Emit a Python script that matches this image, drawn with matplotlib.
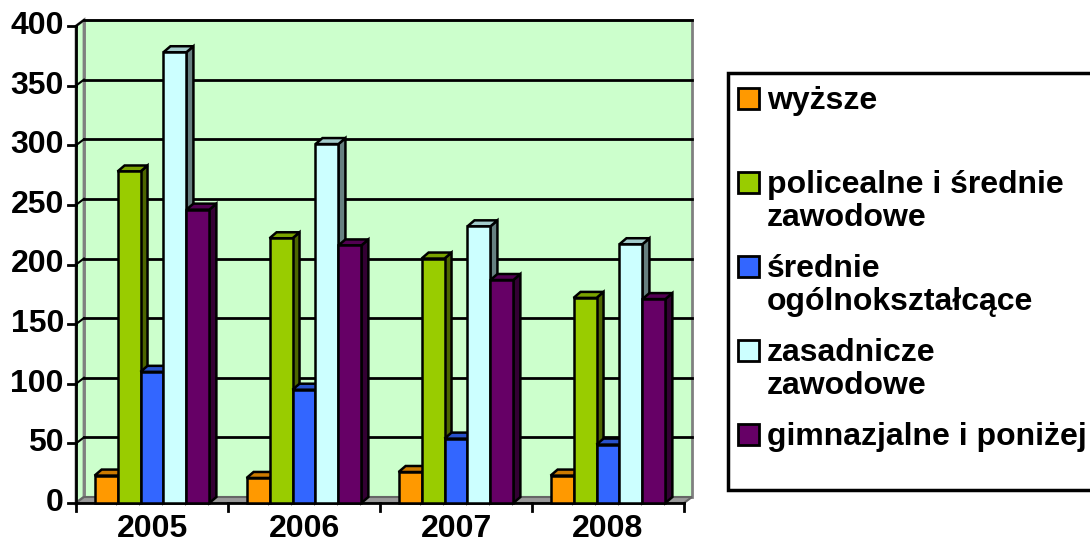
import matplotlib
matplotlib.use("Agg")
import matplotlib.pyplot as plt
from matplotlib.patches import Polygon, Rectangle
import numpy as np

plt.rcParams['font.family'] = ['Liberation Sans', 'DejaVu Sans']
plt.rcParams['font.weight'] = 'bold'

years = ['2005', '2006', '2007', '2008']
series_names = ['wyższe', 'policealne i średnie\nzawodowe', 'średnie\nogólnokształcące',
                'zasadnicze\nzawodowe', 'gimnazjalne i poniżej']
wyzsze = [23, 21, 26, 23]
policealne = [278, 222, 205, 172]
srednie = [110, 95, 54, 49]
zasadnicze = [378, 301, 232, 217]
gimnazjalne = [246, 216, 187, 171]
series = [wyzsze, policealne, srednie, zasadnicze, gimnazjalne]
yticks = [0, 50, 100, 150, 200, 250, 300, 350, 400]

front = ['#FF9900', '#99CC00', '#3366FF', '#CCFFFF', '#660066']
top = ['#CC7A00', '#7AA300', '#2952CC', '#A3CCCC', '#520052']
side = ['#996600', '#4D6600', '#1F3D99', '#668080', '#330033']

W, H = 1090, 551
FS = 23
fig = plt.figure(figsize=(W / 100, H / 100), dpi=100)
ax_l, ax_b, ax_w, ax_h = 76, 48, 608, 477
ax = fig.add_axes([ax_l / W, ax_b / H, ax_w / W, ax_h / H])
ax.set_xlim(0, 4)
ax.set_ylim(0, 400)
ax.axis('off')

ppx = ax_w / 4.0      # pixels per category
ppy = ax_h / 400.0    # pixels per value unit
wdx, wdy = 8 / ppx, 6 / ppy   # wall depth offset
bdx, bdy = 7 / ppx, 6 / ppy   # bar depth offset

wall = '#CCFFCC'
edge = '#808080'
# back wall
ax.add_patch(Rectangle((wdx, wdy), 4, 400, facecolor=wall, edgecolor=edge, lw=2, clip_on=False, zorder=0))
# left wall
ax.add_patch(Polygon([(0, 0), (0, 400), (wdx, 400 + wdy), (wdx, wdy)], closed=True,
                     facecolor=wall, edgecolor=edge, lw=2, clip_on=False, zorder=0.5))
# floor
ax.add_patch(Polygon([(0, 0), (4, 0), (4 + wdx, wdy), (wdx, wdy)], closed=True,
                     facecolor='#999999', edgecolor='#666666', lw=1.5, clip_on=False, zorder=0.5))
# gridlines
for v in yticks[1:]:
    ax.plot([wdx, 4 + wdx], [v + wdy, v + wdy], color='black', lw=2, clip_on=False, zorder=1)
    ax.plot([0, wdx], [v, v + wdy], color='black', lw=1.5, clip_on=False, zorder=1)

# axes lines
ax.plot([0, 0], [0, 400], color='black', lw=2, clip_on=False, zorder=2)
ax.plot([0, 4], [0, 0], color='black', lw=2, clip_on=False, zorder=2)
tkx = 8 / ppx
tky = 8 / ppy
for v in yticks:
    ax.plot([-tkx, 0], [v, v], color='black', lw=2, clip_on=False, zorder=2)
    ax.text(-12 / ppx, v, str(v), ha='right', va='center', fontsize=FS, fontweight='bold')
for i in range(5):
    ax.plot([i, i], [0, -tky], color='black', lw=2, clip_on=False, zorder=2)
for i, yr in enumerate(years):
    ax.text(i + 0.5, -26 / ppy, yr, ha='center', va='center', fontsize=FS, fontweight='bold')

# bars
bw = 0.151
n = len(series)
z = 3
for gi in range(len(years)):
    for si in range(n):
        v = series[si][gi]
        x0 = gi + 0.5 - n * bw / 2 + si * bw
        ax.bar(x0, v, width=bw, align='edge', color=front[si], edgecolor='black', lw=1.8,
               zorder=z + 0.2, clip_on=False)
        ax.add_patch(Polygon([(x0, v), (x0 + bw, v), (x0 + bw + bdx, v + bdy), (x0 + bdx, v + bdy)],
                             closed=True, facecolor=top[si], edgecolor='black', lw=1.8,
                             clip_on=False, zorder=z + 0.1))
        ax.add_patch(Polygon([(x0 + bw, 0), (x0 + bw, v), (x0 + bw + bdx, v + bdy), (x0 + bw + bdx, bdy)],
                             closed=True, facecolor=side[si], edgecolor='black', lw=1.8,
                             clip_on=False, zorder=z))
        z += 1

# legend (drawn manually in pixel space of the figure)
def fx(px):
    return px / W

def fy(py):
    return 1 - py / H

fig.patches.append(Rectangle((fx(728), fy(490)), (1100 - 728) / W, (490 - 73) / H,
                             transform=fig.transFigure, facecolor='white', edgecolor='black', lw=2.5,
                             zorder=1))
entry_base = 109
for si, name in enumerate(series_names):
    base = entry_base + si * 84
    fig.patches.append(Rectangle((fx(738), fy(base)), 21 / W, 21 / H, transform=fig.transFigure,
                                 facecolor=front[si], edgecolor='black', lw=2, zorder=2))
    for li, line in enumerate(name.split('\n')):
        fig.text(fx(767), fy(base + li * 33), line, ha='left', va='baseline', fontsize=FS,
                 fontweight='bold', zorder=3)

fig.savefig('out.png', dpi=100)
